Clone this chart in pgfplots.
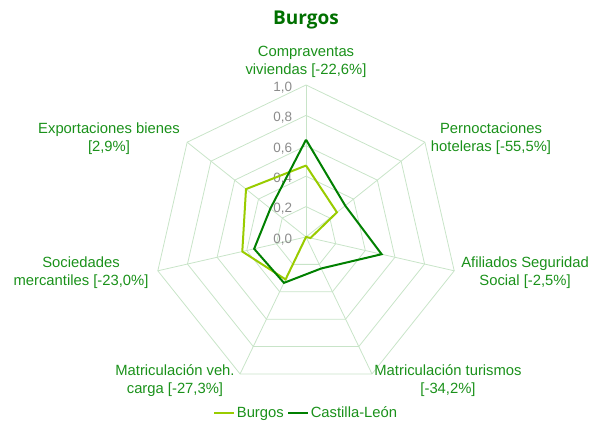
\documentclass[border=0pt]{standalone}
\usepackage{pgfplots}
\pgfplotsset{compat=1.18}
\usepackage{fontspec}
\setmainfont{Liberation Sans}
\newfontfamily\titlefont{Open Sans}
\definecolor{gridc}{RGB}{200,228,200}
\definecolor{labc}{RGB}{26,145,26}
\definecolor{titc}{RGB}{0,112,0}
\definecolor{tickc}{RGB}{140,140,140}
\definecolor{burg}{RGB}{153,204,0}
\definecolor{cyl}{RGB}{0,128,0}
\begin{document}
\begin{tikzpicture}
\tikzset{lab/.style={text=labc, align=center, font=\fontsize{14.8}{18}\selectfont, inner sep=0pt},
  tk/.style={anchor=east, text=tickc, font=\fontsize{13.5}{15}\selectfont, inner sep=0pt, yshift=-2.5pt}}
\begin{axis}[
  scale only axis, width=597pt, height=421pt,
  xmin=-2.013, xmax=1.914, ymin=-1.2105, ymax=1.559,
  hide axis, clip=false,
  legend columns=2,
  legend style={at={(axis cs:0,-1.158)}, anchor=center, draw=none, fill=none,
    font=\fontsize{14.8}{17}\selectfont\color{labc}, inner sep=0pt,
    /tikz/every even column/.append style={column sep=2pt},
    nodes={inner xsep=1.5pt}},
  legend image code/.code={\draw[#1] (0pt,0pt) -- (20pt,0pt);},
]
% bounding box
\draw[draw=none] (rel axis cs:0,0) rectangle (rel axis cs:1,1);
% heptagon grid
\addplot[gridc, line width=0.8pt, data cs=polar, forget plot] coordinates {(90,0.2) (38.571,0.2) (-12.857,0.2) (-64.286,0.2) (-115.714,0.2) (-167.143,0.2) (141.429,0.2) (90,0.2)};
\addplot[gridc, line width=0.8pt, data cs=polar, forget plot] coordinates {(90,0.4) (38.571,0.4) (-12.857,0.4) (-64.286,0.4) (-115.714,0.4) (-167.143,0.4) (141.429,0.4) (90,0.4)};
\addplot[gridc, line width=0.8pt, data cs=polar, forget plot] coordinates {(90,0.6) (38.571,0.6) (-12.857,0.6) (-64.286,0.6) (-115.714,0.6) (-167.143,0.6) (141.429,0.6) (90,0.6)};
\addplot[gridc, line width=0.8pt, data cs=polar, forget plot] coordinates {(90,0.8) (38.571,0.8) (-12.857,0.8) (-64.286,0.8) (-115.714,0.8) (-167.143,0.8) (141.429,0.8) (90,0.8)};
\addplot[gridc, line width=0.8pt, data cs=polar, forget plot] coordinates {(90,1) (38.571,1) (-12.857,1) (-64.286,1) (-115.714,1) (-167.143,1) (141.429,1) (90,1)};
% spokes
\addplot[gridc, line width=0.8pt, data cs=polar, forget plot] coordinates {(90,0) (90,1)};
\addplot[gridc, line width=0.8pt, data cs=polar, forget plot] coordinates {(38.571,0) (38.571,1)};
\addplot[gridc, line width=0.8pt, data cs=polar, forget plot] coordinates {(-12.857,0) (-12.857,1)};
\addplot[gridc, line width=0.8pt, data cs=polar, forget plot] coordinates {(-64.286,0) (-64.286,1)};
\addplot[gridc, line width=0.8pt, data cs=polar, forget plot] coordinates {(-115.714,0) (-115.714,1)};
\addplot[gridc, line width=0.8pt, data cs=polar, forget plot] coordinates {(-167.143,0) (-167.143,1)};
\addplot[gridc, line width=0.8pt, data cs=polar, forget plot] coordinates {(141.429,0) (141.429,1)};
% tick labels
\node[tk] at (axis cs:-0.09,0) {0,0};
\node[tk] at (axis cs:-0.09,0.2) {0,2};
\node[tk] at (axis cs:-0.09,0.4) {0,4};
\node[tk] at (axis cs:-0.09,0.6) {0,6};
\node[tk] at (axis cs:-0.09,0.8) {0,8};
\node[tk] at (axis cs:-0.09,1) {1,0};
% data
\addplot[burg, line width=2pt, data cs=polar] coordinates {(90,0.47) (38.571,0.26) (-12.857,0.03) (-64.286,0.0) (-115.714,0.31) (-167.143,0.43) (141.429,0.505) (90,0.47)};
\addlegendentry{Burgos}
\addplot[cyl, line width=2pt, data cs=polar] coordinates {(90,0.64) (38.571,0.33) (-12.857,0.51) (-64.286,0.23) (-115.714,0.335) (-167.143,0.35) (141.429,0.30) (90,0.64)};
\addlegendentry{Castilla-León}
% title
\node[text=titc, font=\titlefont\bfseries\fontsize{19}{22}\selectfont] at (axis cs:0,1.428) {Burgos};
% axis labels
\node[lab] at (axis cs:0,1.155) {Compraventas\\viviendas [-22,6\%]};
\node[lab] at (axis cs:1.217,0.645) {Pernoctaciones\\hoteleras [-55,5\%]};
\node[lab] at (axis cs:1.441,-0.237) {Afiliados Seguridad\\Social [-2,5\%]};
\node[lab] at (axis cs:0.934,-0.947) {Matriculación turismos\\{[}-34,2\%{]}};
\node[lab] at (axis cs:-0.862,-0.947) {Matriculación veh.\\carga [-27,3\%]};
\node[lab] at (axis cs:-1.480,-0.237) {Sociedades\\mercantiles [-23,0\%]};
\node[lab] at (axis cs:-1.296,0.648) {Exportaciones bienes\\{[}2,9\%{]}};
\end{axis}
\end{tikzpicture}
\end{document}
